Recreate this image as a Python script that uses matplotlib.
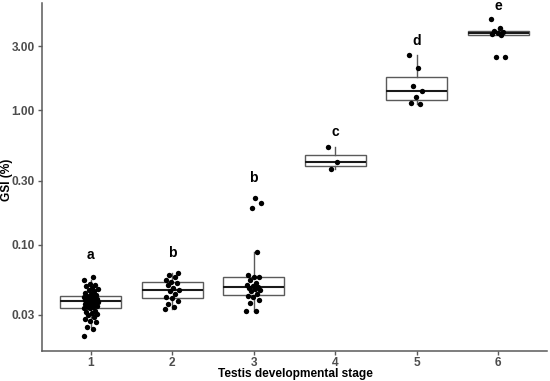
import numpy as np
import matplotlib
matplotlib.use('Agg')
import matplotlib.pyplot as plt

plt.rcParams['font.family'] = ['Liberation Sans', 'DejaVu Sans']

# GSI (%) per testis developmental stage
stage1 = [0.0209, 0.0235, 0.0245, 0.0265, 0.0272, 0.0280, 0.0290, 0.0298, 0.0305, 0.0310,
          0.0315, 0.0320, 0.0336, 0.0338, 0.0342, 0.0346, 0.0350, 0.0355, 0.0360, 0.0364,
          0.0368, 0.0372, 0.0377, 0.0379, 0.0380, 0.0383, 0.0386, 0.0389, 0.0392, 0.0395,
          0.0398, 0.0401, 0.0404, 0.0407, 0.0410, 0.0412, 0.0415, 0.0420, 0.0430, 0.0440,
          0.0450, 0.0460, 0.0470, 0.0480, 0.0490, 0.0500, 0.0510, 0.0550, 0.0570]
stage2 = [0.0333, 0.0345, 0.0360, 0.0380, 0.0400, 0.0410, 0.0430, 0.0450, 0.0460, 0.0480,
          0.0500, 0.0520, 0.0530, 0.0550, 0.0570, 0.0590, 0.0612]
stage3 = [0.0323, 0.0323, 0.0370, 0.0390, 0.0410, 0.0415, 0.0430, 0.0450, 0.0460, 0.0470,
          0.0480, 0.0482, 0.0490, 0.0500, 0.0520, 0.0550, 0.0570, 0.0578, 0.0590, 0.0877,
          0.188, 0.203, 0.223]
stage4 = [0.530, 0.411, 0.363]
stage5 = [2.57, 2.05, 1.52, 1.40, 1.25, 1.14, 1.11]
stage6 = [4.76, 4.06, 3.88, 3.81, 3.75, 3.68, 3.62, 2.50, 2.48]

groups = [stage1, stage2, stage3, stage4, stage5, stage6]
stages = ['1', '2', '3', '4', '5', '6']
letters = ['a', 'b', 'b', 'c', 'd', 'e']
letter_y = [0.0838, 0.0867, 0.313, 0.692, 3.28, 5.98]

y_ticks = [0.03, 0.10, 0.30, 1.00, 3.00]
y_labels = ['0.03', '0.10', '0.30', '1.00', '3.00']

fig = plt.figure(figsize=(5.5, 3.81), dpi=100)
ax = fig.add_axes([0.0764, 0.0787, 0.9181, 0.9133])

pos = np.arange(1, 7)
# log10 data on a linear axis, so the box stats are on the log scale like ggplot
logs = [np.log10(g) for g in groups]

gray = '#5a5a5a'
ax.boxplot(logs, positions=pos, widths=0.75, showfliers=False, patch_artist=True,
           boxprops=dict(facecolor='white', edgecolor=gray, linewidth=1.0),
           whiskerprops=dict(color=gray, linewidth=1.0),
           capprops=dict(linewidth=0),
           medianprops=dict(color='#1a1a1a', linewidth=1.5),
           zorder=2)

# jittered points, deterministic spread
for p, lg in zip(pos, logs):
    k = np.arange(len(lg))
    off = ((k * 0.618034) % 1 - 0.5) * 0.18
    ax.scatter(p + off, lg, s=15, color='black', zorder=3, linewidths=0)

for p, l, yv in zip(pos, letters, letter_y):
    ax.text(p, np.log10(yv), l, ha='center', va='center', fontsize=10,
            fontweight='bold', color='black')

ax.set_xlim(0.4, 6.6)
ax.set_ylim(-1.791, 0.797)
ax.set_xticks(pos)
ax.set_xticklabels(stages)
ax.set_yticks(np.log10(y_ticks))
ax.set_yticklabels(y_labels)

for s in ['top', 'right']:
    ax.spines[s].set_visible(False)
for s in ['left', 'bottom']:
    ax.spines[s].set_color(gray)
    ax.spines[s].set_linewidth(1.1)
ax.tick_params(colors=gray, length=3, width=1.0, labelsize=8.6, labelcolor='#4d4d4d')
ax.tick_params(axis='y', pad=2)
ax.tick_params(axis='x', pad=1.5)
for t in ax.get_xticklabels() + ax.get_yticklabels():
    t.set_fontweight('bold')

ax.set_xlabel('Testis developmental stage', fontsize=8.6, fontweight='bold', va='center')
ax.set_ylabel('GSI (%)', fontsize=8.6, fontweight='bold', va='center')
ax.xaxis.set_label_coords(0.501, -0.066)
ax.yaxis.set_label_coords(-0.069, 0.491)

fig.savefig('out.png', dpi=100)
